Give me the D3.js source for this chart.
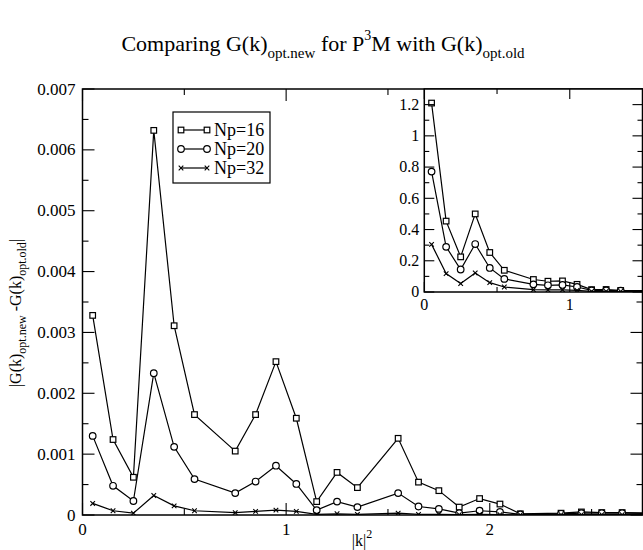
<!DOCTYPE html>
<html><head><meta charset="utf-8">
<script src="https://cdn.jsdelivr.net/npm/d3@7"></script>
<style>body{margin:0;background:#fff}svg{display:block}text{font-family:"Liberation Serif","Times New Roman",serif;fill:#000}</style>
</head><body><div id="c"></div>
<script>
// |k|^2 positions
const kMain = [0.05,0.15,0.25,0.35,0.45,0.55,0.75,0.85,0.95,1.05,1.15,1.25,1.35,1.55,1.65,1.75,1.85,1.95,2.05,2.15,2.35,2.45,2.55,2.65,2.85];
const np16 = [0.00328,0.00124,0.00062,0.00632,0.00311,0.00165,0.00105,0.00165,0.00252,0.00159,0.00022,0.00070,0.00045,0.00126,0.00054,0.00040,0.00013,0.00027,0.00018,0.00002,0.00003,0.00005,0.00004,0.00004,0.00003];
const np20 = [0.00130,0.00048,0.00023,0.00233,0.00112,0.00059,0.00036,0.00055,0.00081,0.00051,0.00008,0.00022,0.00013,0.00036,0.00014,0.00010,0.00003,0.00007,0.00005,0.00001,0.00002,0.00003,0.00003,0.00003,0.00002];
const np32 = [0.00019,0.00007,0.00003,0.00032,0.00015,0.00007,0.00004,0.00006,0.00008,0.00006,0.00001,0.00002,0.00001,0.00003,0.00001,0.00001,0.000005,0.00001,0.000005,0.000003,0.000005,0.000005,0.000005,0.000005,0.000005];
// inset
const kInset = [0.05,0.15,0.25,0.35,0.45,0.55,0.75,0.85,0.95,1.05,1.15,1.25,1.35,1.55,1.65];
const in16 = [1.21,0.454,0.225,0.50,0.253,0.139,0.080,0.069,0.071,0.049,0.015,0.016,0.010,0.008,0.006];
const in20 = [0.771,0.289,0.144,0.307,0.154,0.084,0.049,0.043,0.045,0.032,0.010,0.010,0.008,0.006,0.005];
const in32 = [0.305,0.118,0.054,0.122,0.060,0.032,0.015,0.013,0.014,0.010,0.004,0.004,0.003,0.003,0.002];
const seriesNames = ["Np=16","Np=20","Np=32"];
const markers = ["square","circle","cross"];
const xTickLabels = ["0","1","2"];
const yTickLabels = ["0","0.001","0.002","0.003","0.004","0.005","0.006","0.007"];
const insetYTickLabels = ["0","0.2","0.4","0.6","0.8","1","1.2"];

const W=643,H=550;
const svg=d3.select("#c").append("svg").attr("width",W).attr("height",H);

function drawMarker(g,type,x,y){
  if(type==="square") g.append("rect").attr("x",x-2.8).attr("y",y-2.8).attr("width",5.6).attr("height",5.6).attr("fill","#fff").attr("stroke","#000").attr("stroke-width",1.2);
  else if(type==="circle") g.append("circle").attr("cx",x).attr("cy",y).attr("r",3.3).attr("fill","#fff").attr("stroke","#000").attr("stroke-width",1.2);
  else g.append("path").attr("d",`M${x-2.3},${y-2.3}L${x+2.3},${y+2.3}M${x-2.3},${y+2.3}L${x+2.3},${y-2.3}`).attr("stroke","#000").attr("stroke-width",1.1);
}

function panel(opt){
  const {x,y,xs,ys,id}=opt;
  const L=x.range()[0],R=x.range()[1],B=y.range()[0],T=y.range()[1];
  if(opt.bg) svg.append("rect").attr("x",L).attr("y",T).attr("width",R-L).attr("height",B-T).attr("fill","#fff");
  svg.append("clipPath").attr("id",id).append("rect").attr("x",L).attr("y",T).attr("width",R-L).attr("height",B-T);
  const g=svg.append("g").attr("clip-path",`url(#${id})`);
  const line=d3.line().x(d=>x(d[0])).y(d=>y(d[1]));
  ys.forEach((vals,i)=>{
    const pts=xs.map((k,j)=>[k,vals[j]]);
    g.append("path").attr("d",line(pts)).attr("fill","none").attr("stroke","#000").attr("stroke-width",1.2);
    pts.forEach(p=>drawMarker(g,markers[i],x(p[0]),y(p[1])));
  });
  const tk=svg.append("g").attr("stroke","#000").attr("stroke-width",1.1);
  opt.xMinor.forEach(v=>{const px=x(v);tk.append("line").attr("x1",px).attr("x2",px).attr("y1",B).attr("y2",B-opt.minL);tk.append("line").attr("x1",px).attr("x2",px).attr("y1",T).attr("y2",T+opt.minL);});
  opt.xMajor.forEach(v=>{const px=x(v);tk.append("line").attr("x1",px).attr("x2",px).attr("y1",B).attr("y2",B-opt.majL);tk.append("line").attr("x1",px).attr("x2",px).attr("y1",T).attr("y2",T+opt.majL);});
  opt.yMinor.forEach(v=>{const py=y(v);tk.append("line").attr("x1",L).attr("x2",L+opt.minL).attr("y1",py).attr("y2",py);tk.append("line").attr("x1",R).attr("x2",R-opt.minL).attr("y1",py).attr("y2",py);});
  opt.yMajor.forEach(v=>{const py=y(v);tk.append("line").attr("x1",L).attr("x2",L+opt.majL).attr("y1",py).attr("y2",py);tk.append("line").attr("x1",R).attr("x2",R-opt.majL).attr("y1",py).attr("y2",py);});
  svg.append("rect").attr("x",L).attr("y",T).attr("width",R-L).attr("height",B-T).attr("fill","none").attr("stroke","#000").attr("stroke-width",1.5);
  opt.xLabels.forEach((t,i)=>svg.append("text").attr("x",x(opt.xMajor[i])).attr("y",B+opt.xLabDy).attr("text-anchor","middle").attr("font-size",opt.fs).text(t));
  opt.yLabels.forEach((t,i)=>svg.append("text").attr("x",L-opt.yLabDx).attr("y",y(opt.yMajor[i])+opt.fs*0.33).attr("text-anchor","end").attr("font-size",opt.fs).text(t));
}

// main
const x=d3.scaleLinear().domain([0,2.75]).range([82.5,642.5]);
const y=d3.scaleLinear().domain([0,0.007]).range([515,89]);
panel({x,y,xs:kMain,ys:[np16,np20,np32],id:"cm",
  xMajor:[0,1,2],xMinor:[0.5,1.5,2.5],yMajor:d3.range(8).map(i=>i*0.001),yMinor:d3.range(7).map(i=>i*0.001+0.0005),
  majL:12,minL:6,xLabels:xTickLabels,yLabels:yTickLabels,xLabDy:20,yLabDx:7,fs:17});

// legend
const lg=svg.append("g");
lg.append("rect").attr("x",173).attr("y",112).attr("width",97).attr("height",71).attr("fill","#fff").attr("stroke","#000").attr("stroke-width",1.2);
[130,149,168].forEach((yy,i)=>{
  lg.append("line").attr("x1",181).attr("x2",207).attr("y1",yy).attr("y2",yy).attr("stroke","#000").attr("stroke-width",1.2);
  drawMarker(lg,markers[i],181,yy);drawMarker(lg,markers[i],207,yy);
  lg.append("text").attr("x",214).attr("y",yy+6).attr("font-size",18).text(seriesNames[i]);
});

// inset
const xi=d3.scaleLinear().domain([0,1.5]).range([424.3,642.5]);
const yi=d3.scaleLinear().domain([0,1.3]).range([292,89]);
panel({x:xi,y:yi,xs:kInset,ys:[in16,in20,in32],id:"ci",bg:true,
  xMajor:[0,1],xMinor:[0.5],yMajor:d3.range(7).map(i=>i*0.2),yMinor:d3.range(6).map(i=>i*0.2+0.1),
  majL:10,minL:5,xLabels:xTickLabels.slice(0,2),yLabels:insetYTickLabels,xLabDy:18,yLabDx:5,fs:16});

// title
const tt=svg.append("text").attr("x",323).attr("y",51).attr("text-anchor","middle").attr("font-size",22);
tt.append("tspan").text("Comparing G(k)");
tt.append("tspan").attr("font-size",15).attr("dy",7).text("opt.new");
tt.append("tspan").attr("dy",-7).text(" for P");
tt.append("tspan").attr("font-size",14).attr("dy",-11).text("3");
tt.append("tspan").attr("dy",11).text("M with G(k)");
tt.append("tspan").attr("font-size",15).attr("dy",7).text("opt.old");

// axis titles
const xl=svg.append("text").attr("x",362).attr("y",546).attr("text-anchor","middle").attr("font-size",16);
xl.append("tspan").text("|k|");
xl.append("tspan").attr("font-size",12).attr("dy",-8).text("2");
const yl=svg.append("text").attr("transform","translate(21,313) rotate(-90)").attr("text-anchor","middle").attr("font-size",16);
yl.append("tspan").text("|G(k)");
yl.append("tspan").attr("font-size",12).attr("dy",5).text("opt.new");
yl.append("tspan").attr("dy",-5).text(" -G(k)");
yl.append("tspan").attr("font-size",12).attr("dy",5).text("opt.old");
yl.append("tspan").attr("dy",-5).text("|");
</script></body></html>
